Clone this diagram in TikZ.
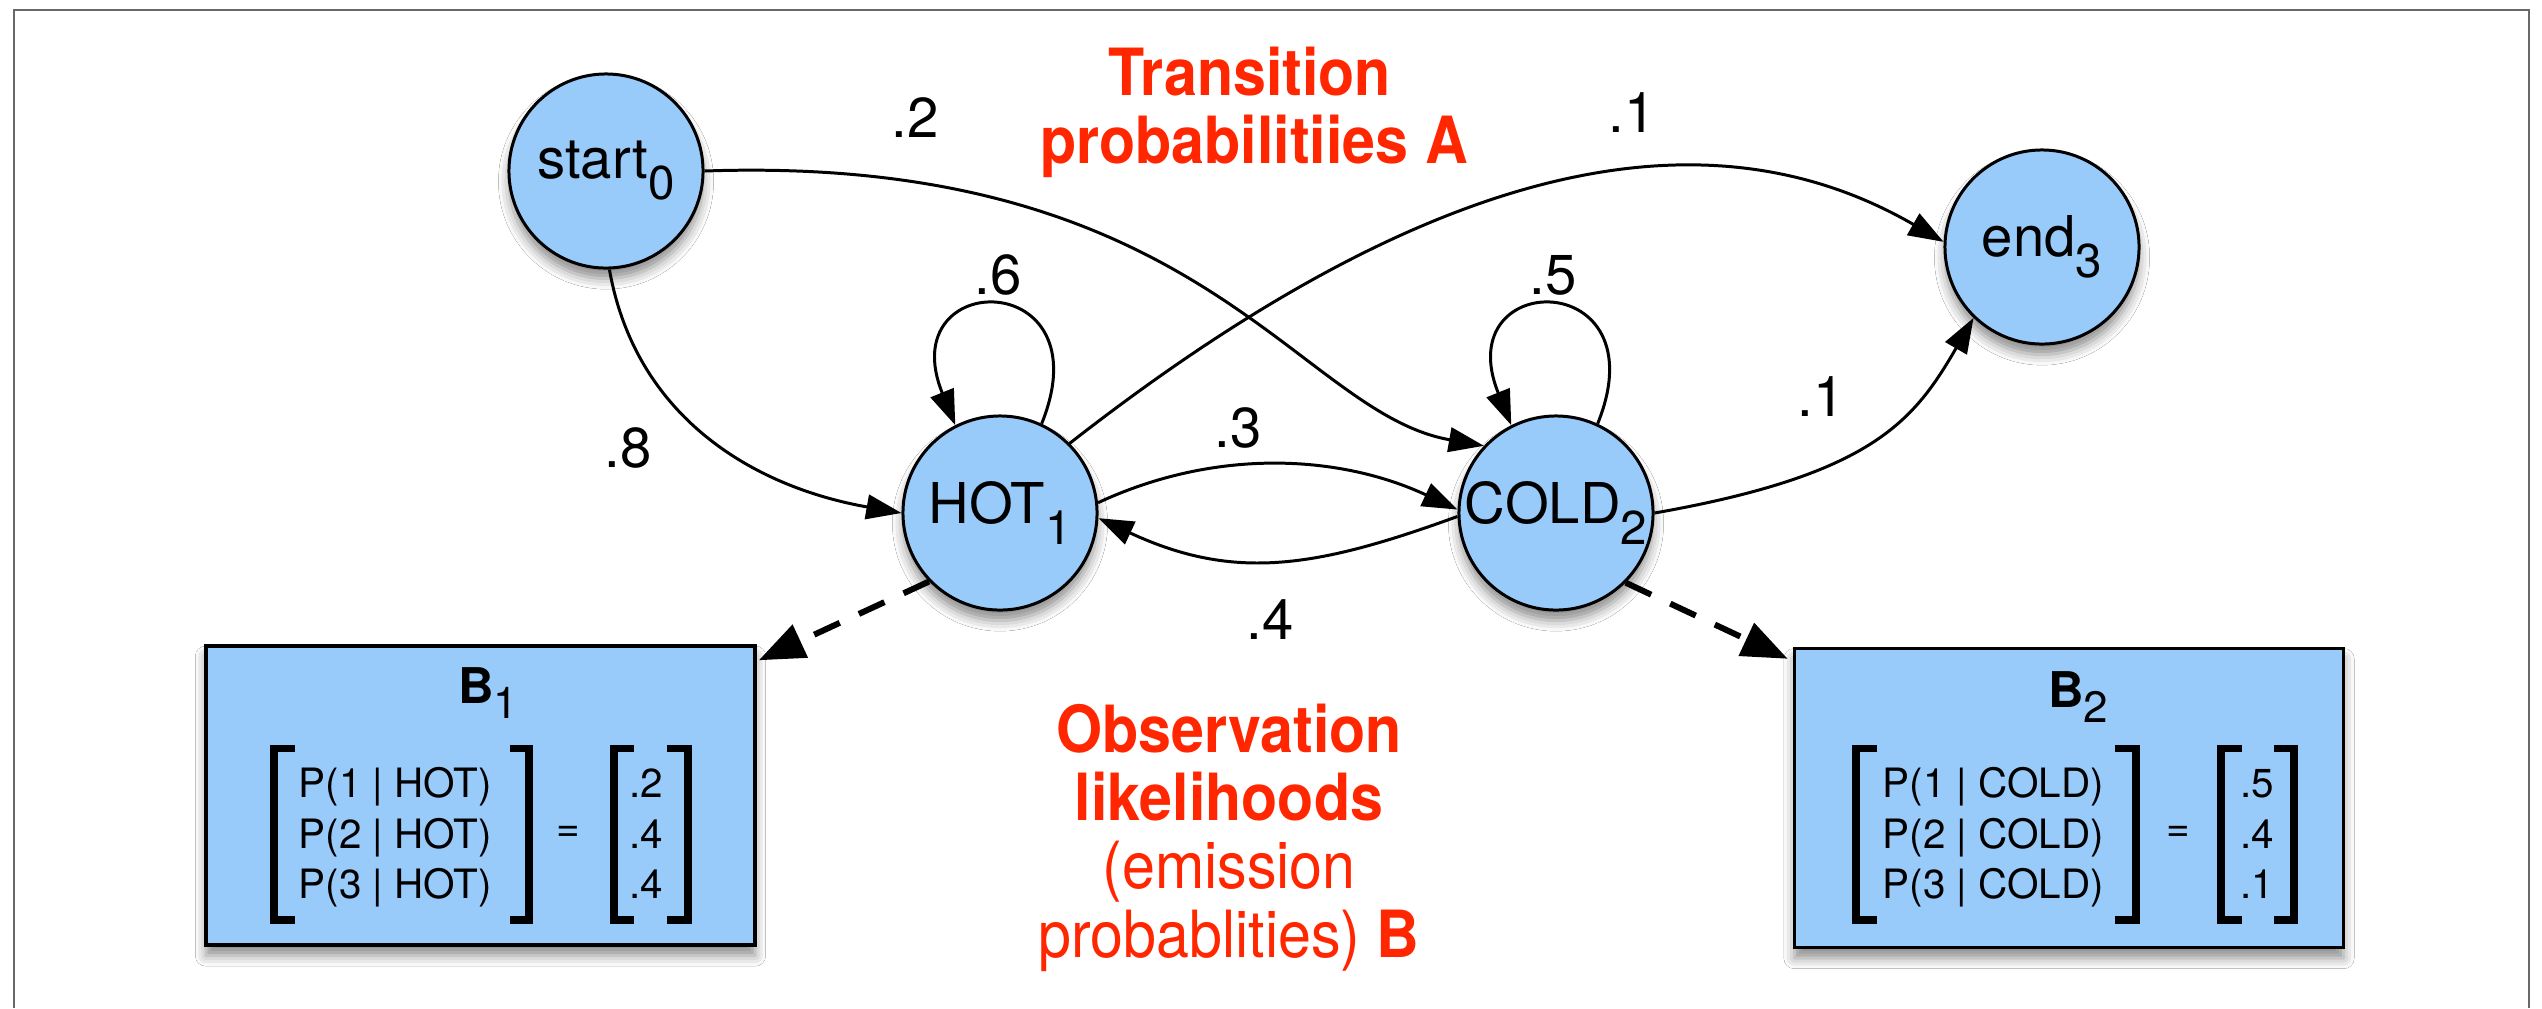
\documentclass[tikz,border=0pt]{standalone}
\usepackage{fontspec}
\setmainfont{TeX Gyre Heros}
\newfontfamily\notefont[FakeStretch=0.91]{TeX Gyre Heros}
\usetikzlibrary{arrows.meta,shadows.blur}

\definecolor{statefill}{RGB}{153,203,250}
\definecolor{notered}{RGB}{255,38,0}
\definecolor{framegray}{RGB}{105,105,105}

% lowered subscripts for state names and box titles
\newcommand\nsub[1]{\raisebox{-6pt}{\fontsize{13.5}{14}\selectfont #1}}
\newcommand\bsub[1]{\raisebox{-4.5pt}{\fontsize{12.5}{13}\selectfont\mdseries #1}}

\tikzset{
  softshadow/.style={blur shadow={shadow xshift=0pt, shadow yshift=-3pt,
      shadow blur radius=3pt, shadow opacity=45}},
  state/.style={circle, draw=black, line width=0.85pt, fill=statefill,
      minimum size=1.94cm, inner sep=0pt, font=\fontsize{16}{19}\selectfont, softshadow},
  emitbox/.style={rectangle, draw=black, line width=0.95pt, fill=statefill,
      minimum width=5.49cm, minimum height=2.99cm, inner sep=0pt, softshadow},
  trans/.style={line width=0.85pt, -{Triangle[length=10pt,width=7pt]}},
  emit/.style={line width=1.7pt, dash pattern=on 8pt off 6pt,
      -{Triangle[length=13pt,width=10pt]}},
  prob/.style={inner sep=0pt, font=\fontsize{16}{19}\selectfont},
  boxtitle/.style={anchor=base, inner sep=0pt, font=\fontsize{14}{16}\selectfont\bfseries},
  rowtext/.style={anchor=base west, inner sep=0pt, font=\fontsize{11.5}{14}\selectfont},
  eqsign/.style={inner sep=0pt, font=\fontsize{11.5}{14}\selectfont},
  brak/.style={line width=2.1pt, miter limit=10},
  note/.style={anchor=base, inner sep=0pt, text=notered,
      font=\notefont\fontsize{18.5}{22}\selectfont},
}

\begin{document}
\begin{tikzpicture}[x=0.01cm, y=-0.01cm]
  \fill[white] (0,0) rectangle (2542,1008);
  \useasboundingbox (0,0) rectangle (2542,1008);

  % outer frame, open at the bottom
  \draw[framegray, line width=0.7pt] (14,1008) -- (14,10) -- (2529,10) -- (2529,1008);

  % states
  \node[state] (start) at (606,171) {start\nsub{0}};
  \node[state] (HOT)   at (1000,513) {HOT\nsub{1}};
  \node[state] (COLD)  at (1556,513) {COLD\nsub{2}};
  \node[state] (end)   at (2042,247) {end\nsub{3}};

  % emission boxes
  \node[emitbox] (B1) at (480.5,795.5) {};
  \node[emitbox] (B2) at (2069,798) {};

  % transitions
  \draw[trans] (start.-88) .. controls +(-80:1.5cm) and +(170:1.5cm) .. (HOT.180);
  \draw[trans] (start.0) .. controls +(2:4.97cm) and +(170:1.9cm) .. (COLD.137);
  \draw[trans] (HOT.45) .. controls +(38:5cm) and +(150:2.5cm) .. (end.177);
  \draw[trans] (HOT.65) .. controls +(68:1.7cm) and +(112:1.7cm) .. (HOT.117);
  \draw[trans] (COLD.65) .. controls +(68:1.7cm) and +(112:1.7cm) .. (COLD.117);
  \draw[trans] (HOT.6) .. controls +(25:1.3cm) and +(155:1.3cm) .. (COLD.178);
  \draw[trans] (COLD.182) .. controls +(200:1.5cm) and +(-25:1.5cm) .. (HOT.-3);
  \draw[trans] (COLD.0) .. controls +(10:2.2cm) and +(-120:1.2cm) .. (end.226);

  % emissions
  \draw[emit] (HOT.224) -- ([shift={(0.02cm,-0.16cm)}]B1.north east);
  \draw[emit] (COLD.-45) -- ([shift={(-0.05cm,-0.12cm)}]B2.north west);

  % transition probabilities
  \node[prob] (p02)  at (915,118)  {.2};
  \node[prob] (p08)  at (628,448)  {.8};
  \node[prob] (p11)  at (998,275)  {.6};
  \node[prob] (p22)  at (1553,275) {.5};
  \node[prob] (p12)  at (1238,428) {.3};
  \node[prob] (p21)  at (1270,620) {.4};
  \node[prob] (p13)  at (1632,113) {.1};
  \node[prob] (p23)  at (1821,397) {.1};

  % B1 contents
  \node[boxtitle] (B1t) at (488,703) {B\bsub{1}};
  \node[rowtext] (B1r1) at (298,797) {P(1 | HOT)};
  \node[rowtext] (B1r2) at (298,848) {P(2 | HOT)};
  \node[rowtext] (B1r3) at (298,898) {P(3 | HOT)};
  \node[eqsign]  (B1eq) at (568,834) {=};
  \node[rowtext] (B1v1) at (629,797) {.2};
  \node[rowtext] (B1v2) at (629,848) {.4};
  \node[rowtext] (B1v3) at (629,898) {.4};
  \draw[brak] (295,748.5) -- (274,748.5) -- (274,920) -- (295,920);
  \draw[brak] (510,748.5) -- (529,748.5) -- (529,920) -- (510,920);
  \draw[brak] (634,748.5) -- (614,748.5) -- (614,920) -- (634,920);
  \draw[brak] (667,748.5) -- (688,748.5) -- (688,920) -- (667,920);

  % B2 contents
  \node[boxtitle] (B2t) at (2078,707) {B\bsub{2}};
  \node[rowtext] (B2r1) at (1882,797) {P(1 | COLD)};
  \node[rowtext] (B2r2) at (1882,848) {P(2 | COLD)};
  \node[rowtext] (B2r3) at (1882,898) {P(3 | COLD)};
  \node[eqsign]  (B2eq) at (2178,834) {=};
  \node[rowtext] (B2v1) at (2240,797) {.5};
  \node[rowtext] (B2v2) at (2240,848) {.4};
  \node[rowtext] (B2v3) at (2240,898) {.1};
  \draw[brak] (1877,748.5) -- (1856,748.5) -- (1856,920) -- (1877,920);
  \draw[brak] (2115,748.5) -- (2136,748.5) -- (2136,920) -- (2115,920);
  \draw[brak] (2242,748.5) -- (2221,748.5) -- (2221,920) -- (2242,920);
  \draw[brak] (2274,748.5) -- (2294,748.5) -- (2294,920) -- (2274,920);

  % annotations
  \node[note] (ta) at (1250,95)  {\bfseries Transition};
  \node[note] (tb) at (1254,163) {\bfseries probabilitiies A};
  \node[note] (oa) at (1229,752) {\bfseries Observation};
  \node[note] (ob) at (1229,820) {\bfseries likelihoods};
  \node[note] (oc) at (1229,888) {(emission};
  \node[note] (od) at (1229,957) {probablities) \textbf{B}};
\end{tikzpicture}
\end{document}
